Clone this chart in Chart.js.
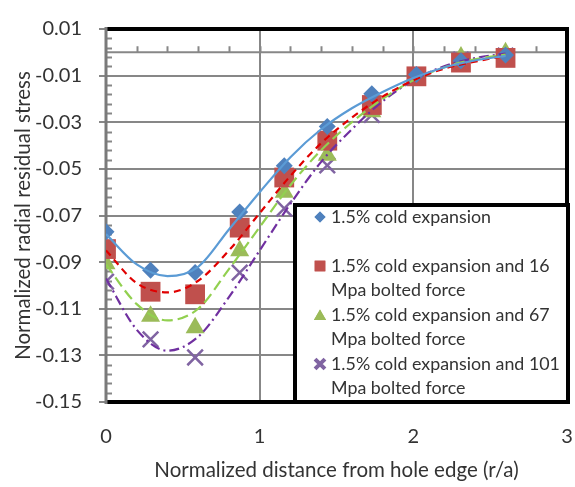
<!DOCTYPE html>
<html>
<head>
<meta charset="utf-8">
<script src="https://cdn.jsdelivr.net/npm/chart.js@4.4.1/dist/chart.umd.min.js"></script>
<style>
  html, body { margin: 0; padding: 0; background: #ffffff; }
  #wrap { width: 575px; height: 487px; position: relative; }
</style>
</head>
<body>
<div id="wrap"><canvas id="chart" width="575" height="487"></canvas></div>
<script>
// Measured points: normalized distance from the hole edge (r/a)
const distance = [0, 0.29, 0.58, 0.87, 1.16, 1.44, 1.73, 2.02, 2.31, 2.6];

// Normalized radial residual stress for each loading case
const coldExpansion = [-0.0770, -0.0935, -0.0945, -0.0685, -0.0487, -0.0318, -0.0178, -0.0095, -0.0036, -0.0012];
const bolted16      = [-0.0844, -0.1027, -0.1038, -0.0752, -0.0537, -0.0379, -0.0226, -0.0103, -0.0044, -0.0024];
const bolted67      = [-0.0907, -0.1132, -0.1182, -0.0851, -0.0600, -0.0442, -0.0255, -0.0110, -0.0020, -0.0002];
const bolted101     = [-0.0984, -0.1231, -0.1309, -0.0945, -0.0670, -0.0485, -0.0268, -0.0100, -0.0032, -0.0014];

// Trend curves for each case
const trendDistance = [0, 0.2, 0.4, 0.6, 0.8, 1.0, 1.2, 1.4, 1.6, 1.8, 2.0, 2.2, 2.4, 2.6];
const trendCold = [-0.078, -0.091, -0.096, -0.092, -0.076, -0.060, -0.045, -0.033, -0.024, -0.017, -0.011, -0.0065, -0.0035, -0.0015];
const trend16   = [-0.085, -0.099, -0.103, -0.098, -0.085, -0.069, -0.053, -0.039, -0.028, -0.019, -0.012, -0.0070, -0.0040, -0.0015];
const trend67   = [-0.091, -0.108, -0.115, -0.110, -0.093, -0.075, -0.057, -0.042, -0.030, -0.020, -0.012, -0.0065, -0.0030, -0.0010];
const trend101  = [-0.097, -0.119, -0.128, -0.122, -0.105, -0.085, -0.065, -0.047, -0.033, -0.021, -0.012, -0.0060, -0.0025, -0.0005];

// Axis ticks
const xTicks = [0, 1, 2, 3];
const yTicks = [0.01, -0.01, -0.03, -0.05, -0.07, -0.09, -0.11, -0.13, -0.15];

// Legend entries (two text lines each)
const seriesLabels = [
  ["1.5% cold expansion", ""],
  ["1.5% cold expansion and 16", "Mpa bolted force"],
  ["1.5% cold expansion and 67", "Mpa bolted force"],
  ["1.5% cold expansion and 101", "Mpa bolted force"]
];

const FONT = "Lato, 'Open Sans', sans-serif";
const GRID = '#878787';
const TEXT = '#333333';

const markerStyles = [
  { pointStyle: 'rectRot',  radius: 8.5, color: '#4F81BD', legendRadius: 5.5 },
  { pointStyle: 'rect',     radius: 14,  color: '#C0504D', legendRadius: 7.5 },
  { pointStyle: 'triangle', radius: 11,  color: '#9BBB59', legendRadius: 7 },
  { pointStyle: 'crossRot', radius: 11,  color: '#8064A2', legendRadius: 7 }
];
const trendStyles = [
  { color: '#5B9BD5', dash: [] },
  { color: '#E00000', dash: [7, 5] },
  { color: '#92D050', dash: [11, 5] },
  { color: '#7030A0', dash: [10, 4, 2, 4] }
];

const toXY = (xs, ys) => xs.map((x, i) => ({ x: x, y: ys[i] }));
const markerSeries = [coldExpansion, bolted16, bolted67, bolted101];
const trendSeries = [trendCold, trend16, trend67, trend101];

const datasets = [];
markerSeries.forEach((ys, i) => {
  const m = markerStyles[i];
  const cross = m.pointStyle === 'crossRot';
  datasets.push({
    label: seriesLabels[i].join(' '),
    data: toXY(distance, ys),
    showLine: false,
    pointStyle: m.pointStyle,
    pointRadius: m.radius,
    pointHoverRadius: m.radius,
    pointBackgroundColor: m.color,
    pointBorderColor: m.color,
    pointBorderWidth: cross ? 2.5 : 0,
    order: 2
  });
});
trendSeries.forEach((ys, i) => {
  const t = trendStyles[i];
  datasets.push({
    label: 'trend ' + (i + 1),
    data: toXY(trendDistance, ys),
    showLine: true,
    borderColor: t.color,
    borderWidth: 2.2,
    borderDash: t.dash,
    pointRadius: 0,
    cubicInterpolationMode: 'monotone',
    fill: false,
    order: 1
  });
});

// Frame, zero axis line and minor tick marks
const framePlugin = {
  id: 'frameAndMinorTicks',
  beforeDatasetsDraw(chart) {
    const ctx = chart.ctx;
    const a = chart.chartArea;
    const xs = chart.scales.x, ys = chart.scales.y;
    ctx.save();
    // horizontal axis through zero
    const y0 = ys.getPixelForValue(0);
    ctx.strokeStyle = GRID;
    ctx.lineWidth = 2;
    ctx.beginPath();
    ctx.moveTo(a.left, y0);
    ctx.lineTo(a.right, y0);
    ctx.stroke();
    // minor ticks every 0.2 along it
    ctx.beginPath();
    for (let i = 1; i < 15; i++) {
      const px = Math.round(xs.getPixelForValue(i * 0.2)) + 0.5;
      ctx.moveTo(px, y0);
      ctx.lineTo(px, y0 - 6);
    }
    ctx.stroke();
    // minor ticks on the vertical axis
    ctx.beginPath();
    for (let k = 0; k < yTicks.length - 1; k++) {
      const hi = yTicks[k], lo = yTicks[k + 1];
      for (let j = 1; j < 5; j++) {
        const py = Math.round(ys.getPixelForValue(hi + (lo - hi) * j / 5)) + 0.5;
        ctx.moveTo(a.left, py);
        ctx.lineTo(a.left + 6, py);
      }
    }
    ctx.stroke();
    // black frame on top, right and bottom
    ctx.strokeStyle = '#000000';
    ctx.lineWidth = 4;
    ctx.beginPath();
    ctx.moveTo(a.left, a.top);
    ctx.lineTo(a.right, a.top);
    ctx.lineTo(a.right, a.bottom);
    ctx.lineTo(a.left, a.bottom);
    ctx.stroke();
    // grey vertical axis line
    ctx.strokeStyle = '#7a7a7a';
    ctx.lineWidth = 3;
    ctx.beginPath();
    ctx.moveTo(a.left, a.top - 2);
    ctx.lineTo(a.left, a.bottom + 2);
    ctx.stroke();
    ctx.restore();
  }
};

// Boxed legend in the lower right corner of the plot
const legendPlugin = {
  id: 'boxLegend',
  afterDraw(chart) {
    const ctx = chart.ctx;
    const a = chart.chartArea;
    const box = { l: 295, t: 205, r: a.right + 1, b: a.bottom };
    ctx.save();
    ctx.fillStyle = '#ffffff';
    ctx.fillRect(box.l, box.t, box.r - box.l, box.b - box.t);
    ctx.strokeStyle = '#000000';
    ctx.lineWidth = 4;
    ctx.strokeRect(box.l, box.t, box.r - box.l, box.b - box.t);

    // size the text so the longest line fits the box
    let size = 18;
    ctx.font = size + 'px ' + FONT;
    const longest = Math.max(...seriesLabels.flat().map(s => ctx.measureText(s).width));
    size = Math.min(19, size * 229 / longest);
    ctx.font = size + 'px ' + FONT;
    ctx.fillStyle = TEXT;
    ctx.textBaseline = 'middle';
    ctx.textAlign = 'left';

    const lineH = 24.5;
    const firstY = 217;
    seriesLabels.forEach((lines, i) => {
      const yTop = firstY + i * 2 * lineH;
      const m = markerStyles[i];
      const cross = m.pointStyle === 'crossRot';
      ctx.fillStyle = m.color;
      ctx.strokeStyle = m.color;
      Chart.helpers.drawPoint(ctx, {
        pointStyle: m.pointStyle,
        radius: m.legendRadius,
        rotation: 0,
        borderWidth: cross ? 2 : 0
      }, 320, yTop + (m.pointStyle === 'triangle' ? 1.5 : 0));
      if (!cross) ctx.fill();
      ctx.fillStyle = TEXT;
      lines.forEach((txt, k) => {
        if (txt) ctx.fillText(txt, 331, yTop + k * lineH);
      });
    });
    ctx.restore();
  }
};

function build() {
  Chart.defaults.font.family = FONT;
  Chart.defaults.color = TEXT;
  new Chart(document.getElementById('chart'), {
    type: 'scatter',
    data: { datasets: datasets },
    options: {
      responsive: false,
      animation: false,
      devicePixelRatio: 1,
      layout: { autoPadding: false, padding: { top: 23, right: 8, left: 0, bottom: 0 } },
      plugins: { legend: { display: false }, tooltip: { enabled: false } },
      scales: {
        x: {
          type: 'linear',
          min: 0, max: 3,
          afterBuildTicks: s => { s.ticks = xTicks.map(v => ({ value: v })); },
          afterFit: s => { s.height = 85; s.paddingLeft = 0; s.paddingRight = 0; },
          ticks: { font: { size: 20 }, color: TEXT, padding: 0, callback: v => String(v) },
          grid: { color: GRID, lineWidth: 2, drawTicks: true, tickLength: 23, tickColor: 'rgba(0,0,0,0)' },
          border: { display: false },
          title: {
            display: true,
            text: 'Normalized distance from hole edge (r/a)',
            font: { size: 20.5 },
            color: TEXT,
            padding: { top: 0, bottom: 4 }
          }
        },
        y: {
          type: 'linear',
          min: -0.15, max: 0.01,
          afterBuildTicks: s => { s.ticks = yTicks.map(v => ({ value: v })); },
          afterFit: s => { s.width = 106; },
          ticks: { font: { size: 20 }, color: TEXT, padding: 17, callback: v => v.toFixed(2) },
          grid: { color: GRID, lineWidth: 2, tickLength: 7, tickColor: GRID, tickWidth: 2 },
          border: { display: false },
          title: {
            display: true,
            text: 'Normalized radial residual stress',
            font: { size: 20.5 },
            color: TEXT,
            padding: { top: 11, bottom: 0 }
          }
        }
      }
    },
    plugins: [framePlugin, legendPlugin]
  });
}

if (document.fonts && document.fonts.load) {
  document.fonts.load('20px Lato').then(build, build);
} else {
  build();
}
</script>
</body>
</html>
